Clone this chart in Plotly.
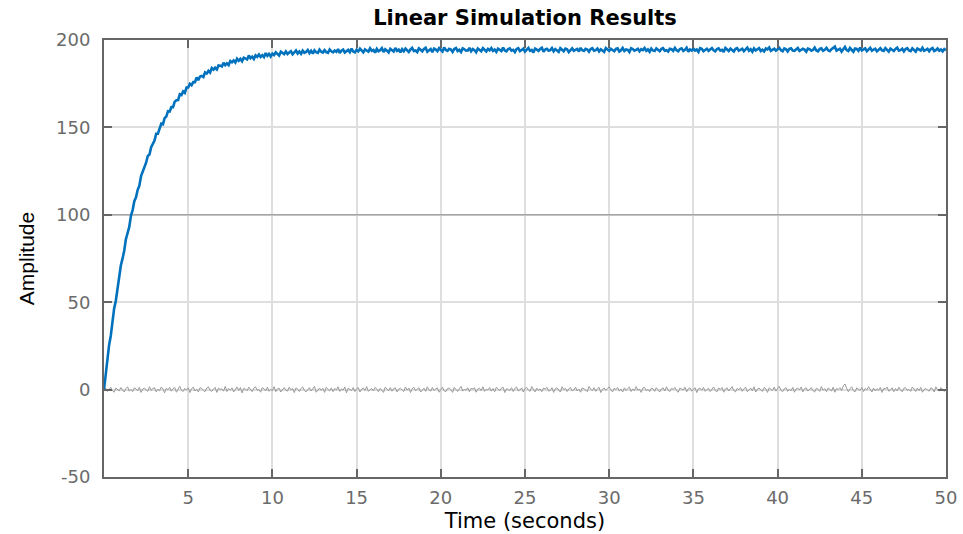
import numpy as np
import plotly.graph_objects as go

# Sample times of the simulation (0.1 s step, 0..50 s)
t_start, t_stop, n_samples = 0.0, 50.0, 501
time_s = np.linspace(t_start, t_stop, n_samples)

# System output (blue)
output_y = [
    0.0, 9.0, 16.1, 25.3, 30.7, 38.9, 46.2, 50.7, 58.3, 63.5,
    71.0, 74.9, 79.4, 86.0, 90.3, 93.1, 99.4, 102.7, 107.8, 110.0,
    114.3, 116.7, 122.2, 124.7, 126.5, 129.8, 133.7, 134.5, 138.7, 140.7,
    142.5, 146.4, 146.4, 149.3, 152.1, 151.8, 155.3, 156.2, 159.3, 159.1,
    161.6, 161.6, 164.7, 165.5, 165.6, 168.9, 168.5, 170.6, 169.7, 172.8,
    172.8, 174.9, 174.1, 175.9, 175.9, 178.6, 177.0, 179.1, 179.4, 178.8,
    181.4, 180.8, 182.4, 181.4, 183.9, 183.0, 184.1, 183.1, 185.4, 185.3,
    184.8, 187.0, 185.6, 186.6, 185.6, 188.0, 187.3, 188.3, 187.1, 189.3,
    188.1, 189.2, 187.9, 189.9, 189.6, 188.9, 191.1, 189.6, 190.5, 189.2,
    191.2, 190.4, 191.7, 190.3, 191.3, 190.2, 192.5, 191.0, 192.1, 190.6,
    192.2,
    191.4, 193.0, 192.2, 191.1, 193.3, 192.6, 191.9, 193.5, 192.0, 192.8,
    193.6, 191.8, 192.9, 194.0, 192.3, 193.4, 192.1, 193.9, 192.7, 193.2,
    194.3, 192.5, 193.8, 192.2, 194.1, 193.0, 192.6, 194.5, 193.3, 192.8,
    194.2, 193.1, 192.7, 194.6, 193.5, 192.9, 194.0, 193.2, 194.8, 192.6,
    193.9, 194.5, 192.8, 193.6, 194.3, 193.0, 195.1, 193.4, 192.9, 194.4,
    193.5, 195.0, 193.7, 192.9, 194.6, 194.1, 193.3, 195.2, 193.8, 194.3,
    192.8, 194.9, 193.6, 194.2, 195.3, 193.1, 194.7, 193.9, 192.9, 195.0,
    194.1, 193.4, 195.4, 193.8, 194.5, 192.9, 194.8, 193.6, 195.1, 194.0,
    193.2, 194.6, 195.5, 193.7, 194.0, 193.1, 195.2, 194.4, 193.5, 194.9,
    195.6, 193.3, 194.2, 194.8, 193.0, 195.1, 194.5, 193.6, 195.3, 194.1,
    193.4, 195.7, 194.3, 193.8, 195.0, 194.6, 193.2, 194.9, 195.4, 193.7,
    194.4, 193.1, 195.2, 194.7, 193.9, 194.0, 195.5, 193.5, 194.8, 194.2,
    193.0, 195.1, 194.3, 193.6, 195.3, 194.6, 193.4, 194.9, 194.1, 195.4,
    193.8, 194.5, 193.2, 195.0, 194.2, 193.7, 195.6, 194.0, 193.5, 194.8,
    195.2, 193.9, 194.4, 193.1, 194.9, 195.3, 193.6, 194.1, 195.0, 193.4,
    194.7, 195.5, 193.8, 194.3, 192.9, 195.1, 194.5, 193.7, 194.9, 195.6,
    193.3, 194.6, 195.0, 193.9, 194.2, 195.4, 193.5, 194.8, 194.0, 193.2,
    195.3, 194.4, 193.6, 195.1, 194.7, 193.1, 194.5, 195.2, 193.8, 194.3,
    194.9, 193.4, 195.5, 194.1, 193.7, 195.0, 194.6, 193.3, 194.8, 195.3,
    193.9, 194.2, 195.1, 193.5, 194.7, 194.0, 193.2, 195.4, 194.4, 193.8,
    195.0, 194.5, 193.6, 194.9, 195.2, 193.4, 194.1, 195.5, 193.7, 194.6,
    194.3, 193.1, 195.3, 194.8, 193.9, 194.4, 195.0, 193.5, 194.7, 194.2,
    195.4, 193.8, 194.6, 193.3, 195.1, 194.0, 193.7, 195.2, 194.5, 193.6,
    194.9, 195.3, 193.9, 194.2, 193.4, 195.0, 194.7, 193.8, 195.5, 194.1,
    193.5, 194.8, 195.2, 193.7, 194.4, 195.6, 193.3, 194.6, 194.0, 195.1,
    193.9, 194.5, 193.2, 195.3, 194.9, 193.6, 194.3, 195.0, 193.8, 194.7,
    195.4, 194.1, 193.5, 194.8, 195.2, 193.9, 194.4, 193.1, 195.5, 194.6,
    193.7, 195.1, 194.3, 193.4, 194.9, 195.3, 193.8, 194.2, 195.0, 193.6,
    194.5, 195.6, 193.9, 194.7, 193.3, 195.2, 194.0, 194.8, 195.4, 193.7,
    194.4, 193.5, 195.1, 194.6, 195.7, 193.8, 194.3, 195.0, 193.9, 194.8,
    195.5, 194.1, 193.6, 195.2, 194.7, 193.4, 194.9, 195.3, 194.0, 193.8,
    194.6, 195.4, 193.7, 194.2, 195.0, 194.5, 193.3, 195.1, 194.8, 193.9,
    194.3, 195.6, 194.0, 193.5, 194.9, 195.2, 193.8, 194.4, 195.5, 194.1,
    193.6, 194.7, 195.3, 196.2, 193.9, 194.5, 195.0, 193.4, 194.8, 196.0,
    194.2, 193.7, 195.4, 194.6, 193.3, 195.1, 194.9, 193.8, 195.6, 194.0,
    194.5, 195.2, 193.6, 194.8, 195.5, 193.9, 194.3, 195.0, 193.5, 194.7,
    195.3, 194.1, 193.8, 195.4, 194.6, 193.4, 195.1, 194.4, 193.7, 194.9,
    195.6, 193.9, 194.2, 195.0, 193.5, 194.8, 195.3, 194.0, 193.6, 195.2,
    194.4, 193.3, 195.1, 194.7, 194.0, 195.5, 193.8, 194.3, 195.0, 193.6,
    194.9, 195.4, 193.7, 194.2, 195.2, 193.9, 194.6, 193.5, 194.8, 194.1,
]

# Noise input signal (gray)
input_u = [
    0.0, 0.8, -1.1, 0.4, 1.3, -0.6, -1.5, 0.9, 0.2, -0.8,
    1.2, -0.3, -1.4, 0.6, 1.6, -0.9, 0.1, -1.2, 1.0, 0.5,
    -0.7, 1.4, -1.6, 0.3, 0.9, -0.2, -1.0, 1.7, -0.5, 0.7,
    1.1, -1.3, 0.2, -0.6, 1.5, 0.4, -1.8, 0.8, -0.1, 1.3,
    -0.9, 0.6, 1.2, -1.5, 0.0, 1.9, -0.4, -1.1, 0.7, -0.3,
    1.0, -1.7, 0.5, 1.4, -0.8, 0.2, -1.3, 1.1, 0.6, -0.6,
    -1.2, 0.9, 1.6, -0.4, -1.0, 0.3, 1.3, -1.6, 0.8, 0.1,
    0.4, -0.9, 1.8, -1.1, 0.6, -0.2, 1.0, -1.4, 0.2, 1.5,
    -0.5, 1.2, -1.9, 0.7, 0.3, -0.7, 1.4, -0.1, -1.2, 0.9,
    1.6, -0.4, 0.0, -1.5, 1.1, 0.5, -0.8, 1.3, -1.0, 0.2,
    -0.6, 1.7, -1.2, 0.4, 0.8, -1.4, 0.1, 1.2, -0.3, -0.9,
    1.4, -0.1, 0.6, -1.7, 1.0, 0.3, -1.1, 0.7, 1.5, -0.5,
    -1.3, 0.2, 1.1, -0.8, 0.5, 1.8, -1.5, 0.0, 0.9, -0.4,
    0.7, -1.6, 1.3, 0.1, -0.7, 1.0, -1.2, 0.6, -0.2, 1.6,
    -1.0, 0.4, -0.3, 1.5, -1.8, 0.8, 0.2, -0.6, 1.2, -1.1,
    0.5, 1.1, -1.4, 0.3, 0.9, -0.5, 1.7, -1.0, 0.0, 0.6,
    -0.8, 1.3, 0.4, -1.2, 0.7, -0.2, -1.6, 1.4, 0.1, -0.7,
    1.2, -0.9, 0.6, 1.0, -1.3, 0.3, 0.8, -0.4, -1.1, 1.5,
    -0.3, 0.9, -1.7, 0.5, 1.3, -0.6, 0.2, 1.1, -1.4, 0.0,
    0.8, -1.0, 1.6, -0.2, -0.9, 1.2, -0.5, 0.4, 1.0, -1.5,
    0.3, 1.4, -0.7, -1.2, 0.6, 0.9, -0.1, -1.6, 1.3, 0.2,
    -1.1, 0.5, 1.8, -0.8, 0.1, -0.4, 1.1, -1.3, 0.7, 0.4,
    1.0, -1.5, 0.3, 0.8, -0.6, 1.6, -1.0, 0.2, -0.3, 1.2,
    -0.9, 0.6, -1.2, 1.4, 0.0, -0.7, 0.9, 1.3, -1.7, 0.5,
    0.1, -0.5, 1.1, -1.1, 0.7, 1.5, -0.8, -0.2, 1.0, -1.4,
    0.6, 1.2, -0.3, -1.0, 1.7, 0.2, -1.3, 0.8, -0.6, 0.4,
    -1.2, 0.9, 0.3, 1.3, -0.9, -0.4, 1.1, -1.6, 0.5, 1.0,
    -0.1, -1.4, 1.6, 0.0, 0.7, -1.1, 0.4, 1.2, -0.7, -0.3,
    1.4, -0.8, 0.2, -1.5, 1.0, 0.6, -0.2, -1.2, 1.8, 0.3,
    -0.6, 1.1, -1.0, 0.5, 1.3, -1.7, 0.1, 0.9, -0.4, 0.7,
    1.5, -0.2, -1.3, 0.8, 0.0, 1.2, -0.9, 0.3, -1.4, 1.0,
    -0.5, 0.6, 1.4, -1.1, 0.4, -0.7, 1.7, -0.3, 0.2, -1.6,
    0.9, 1.3, -0.6, 0.1, -1.2, 0.8, 0.5, -1.0, 1.1, -0.1,
    -1.4, 0.4, 1.0, -0.8, 1.6, -0.3, -1.1, 0.7, 0.2, 1.2,
    -0.7, -1.5, 0.9, 0.3, -0.2, 1.4, -1.3, 0.6, 1.0, -0.9,
    0.2, 1.1, -1.7, 0.5, 0.8, -0.4, 1.3, -1.0, 0.0, 0.7,
    -1.1, 0.6, 1.5, -0.5, -1.2, 0.9, 0.1, 1.2, -1.5, 0.4,
    1.0, -0.8, 0.3, 1.7, -0.6, -1.3, 0.7, -0.1, 1.1, -1.0,
    0.5, 1.4, -1.2, 0.0, 0.9, -0.7, 1.6, -1.4, 0.3, 0.8,
    -0.3, -1.1, 1.2, 0.6, -1.6, 1.0, 0.2, -0.5, 1.4, -0.9,
    0.7, 1.8, -0.4, -1.2, 0.5, 1.1, -1.0, 0.3, -0.7, 1.3,
    -1.5, 0.4, 0.9, -0.2, 1.5, -1.3, 0.6, 1.0, -0.8, 0.1,
    1.2, -0.6, -1.4, 0.8, 0.2, -1.0, 1.7, -0.3, 0.5, -1.2,
    0.9, 0.3, -0.9, 1.4, -1.5, 0.6, 0.0, 1.1, -0.6, 2.1,
    3.2, 0.8, -1.2, 0.4, 1.6, -0.7, -1.3, 1.0, 0.2, -0.5,
    1.3, -1.1, 0.6, -0.2, 1.7, 0.1, -1.4, 0.9, -0.8, 0.5,
    -0.4, 1.2, -1.6, 0.7, 0.3, 1.5, -0.9, -0.3, 1.0, -1.2,
    0.6, -0.7, 1.4, 0.0, -1.3, 0.8, 1.1, -0.5, 0.2, -1.0,
    1.5, 0.4, -1.1, 0.9, -0.6, 1.3, -1.5, 0.1, 0.7, -0.3,
    -0.9, 1.0, 0.5, -1.4, 1.6, -0.2, -0.8, 1.2, 0.3, -1.1,
    0.4,
]

x_ticks = [5, 10, 15, 20, 25, 30, 35, 40, 45, 50]
y_ticks = [-50, 0, 50, 100, 150, 200]

AXIS_GRAY = "#666666"
GRID_GRAY = "#dedede"
TICK_FONT = dict(family="DejaVu Sans", size=18, color="#6b6b6b")

fig = go.Figure()

fig.add_trace(go.Scatter(
    x=time_s, y=input_u, mode="lines",
    line=dict(color="#9a9a9a", width=1),
    showlegend=False, hoverinfo="skip",
))
fig.add_trace(go.Scatter(
    x=time_s, y=output_y, mode="lines",
    line=dict(color="#0072BD", width=2.6),
    showlegend=False,
))

# Slightly darker gridline at 100
fig.add_shape(
    type="line", xref="x", yref="y", x0=0, x1=50, y0=100, y1=100,
    line=dict(color="#a6a6a6", width=1.5), layer="between",
)

axis_common = dict(
    showline=True, linecolor=AXIS_GRAY, linewidth=2,
    mirror="allticks", ticks="inside", ticklen=8, tickwidth=2,
    tickcolor=AXIS_GRAY, showgrid=True, gridcolor=GRID_GRAY,
    gridwidth=1.5, zeroline=False, tickfont=TICK_FONT, automargin=False,
)

fig.update_xaxes(
    range=[0, 50], tickvals=x_ticks, ticktext=[str(v) for v in x_ticks],
    ticklabelstandoff=3,
    title=dict(text="Time (seconds)",
               font=dict(family="DejaVu Sans", size=21, color="#000000"),
               standoff=7),
    **axis_common,
)
fig.update_yaxes(
    range=[-50, 200], tickvals=y_ticks, ticktext=[str(v) for v in y_ticks],
    ticklabelstandoff=8,
    title=dict(text="Amplitude",
               font=dict(family="Liberation Sans", size=21, color="#000000"),
               standoff=16),
    **axis_common,
)

fig.update_layout(
    width=963, height=534,
    margin=dict(l=104, r=17, t=40, b=57),
    paper_bgcolor="white", plot_bgcolor="white",
    title=dict(
        text="<b>Linear Simulation Results</b>",
        font=dict(family="DejaVu Sans", size=21, color="#000000"),
        x=(104 + 946) / 2 / 963, xanchor="center",
        yref="container", y=1 - 18 / 534, yanchor="middle",
    ),
)

fig.write_html("out.html")
